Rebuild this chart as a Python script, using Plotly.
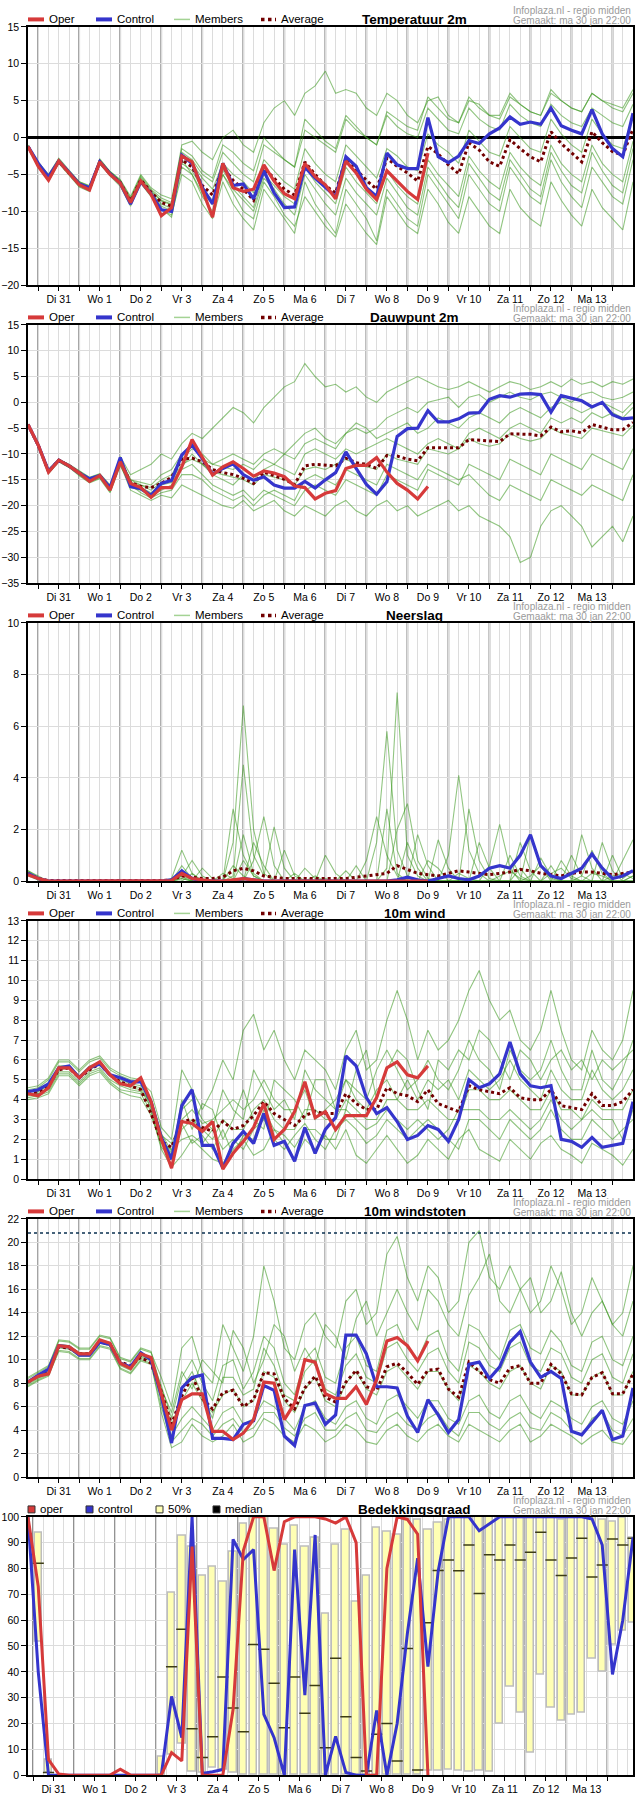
import pandas as pd
import plotly.graph_objects as go

# tijdas: stappen van 6 uur vanaf ma 30 jan 18:00
times = pd.date_range("2023-01-30 18:00", periods=60, freq="6h")
times_cloud = pd.date_range("2023-01-30 21:00", periods=60, freq="6h")
day_starts = pd.date_range("2023-01-31", periods=15, freq="D")
day_noons = pd.date_range("2023-01-31 12:00", periods=14, freq="D")
day_labels = ["Di 31", "Wo 1", "Do 2", "Vr 3", "Za 4", "Zo 5", "Ma 6",
              "Di 7", "Wo 8", "Do 9", "Vr 10", "Za 11", "Zo 12", "Ma 13"]

# ---- Temperatuur 2m ----
temp_oper = [-1.2,-3.9,-5.8,-3.2,-4.8,-6.4,-7.1,-3.3,-5.0,-6.2,-8.8,-5.9,-7.7,-10.6,-9.5,
             -2.5,-3.3,-7.0,-10.8,-3.5,-6.8,-7.3,-7.0,-3.7,-5.9,-7.6,-8.3,-3.5,-5.3,-6.4,
             -8.3,-3.2,-4.8,-7.0,-8.4,-4.5,-5.9,-7.3,-8.4,-2.1]
temp_ctrl = [-1.2,-3.5,-5.3,-3.2,-4.7,-6.3,-6.8,-3.3,-4.9,-6.2,-9.0,-6.0,-7.6,-9.8,-10.0,
             -2.4,-3.5,-6.8,-9.0,-3.5,-6.5,-6.3,-8.3,-4.5,-7.5,-9.5,-9.4,-4.0,-5.5,-6.8,
             -8.0,-2.6,-3.9,-6.8,-8.0,-2.1,-3.7,-4.2,-4.2,2.7,-2.6,-3.4,-2.5,-0.4,-0.8,
             0.5,1.3,2.8,1.8,2.1,1.8,4.0,1.6,1.0,0.5,3.8,0.5,-1.5,-2.6,3.3]
temp_avg = [-1.2,-3.7,-5.5,-3.2,-4.8,-6.3,-6.9,-3.3,-4.9,-6.1,-8.6,-5.7,-7.4,-8.8,-9.3,
            -3.0,-4.0,-6.5,-7.8,-4.0,-5.8,-7.0,-8.5,-4.2,-5.5,-7.0,-7.8,-3.3,-5.0,-6.5,
            -7.5,-2.8,-4.3,-5.8,-7.0,-2.8,-3.9,-4.8,-5.9,-1.2,-2.2,-3.7,-4.9,-0.7,-1.7,
            -3.3,-3.9,-0.3,-1.5,-2.6,-3.3,0.8,-0.8,-2.1,-3.3,0.8,-0.7,-1.9,-2.4,1.2]
temp_m1 = [-1.0,-3.4,-5.0,-2.8,-4.4,-6.0,-6.5,-2.9,-4.6,-5.8,-8.2,-5.2,-7.0,-8.2,-8.8,
           -1,-0.5,-2,-3, 0,1,-1,-2, 2,4,5,3, 6,7,9,6, 6.5,6,4,3, 6,5,3,2,
           5,5.5,3,2, 5,4.5,3,2.5, 5.5,4.5,3.5,3, 6,5,4,3.5, 6,5,4.5,4, 6.5]
temp_m2 = [-1.3,-4.0,-5.9,-3.5,-5.1,-6.7,-7.3,-3.6,-5.2,-6.6,-9.3,-6.2,-8.0,-9.8,-10.5,
           -5,-6,-9,-11, -6,-9,-11,-12.5, -7,-9,-11,-13, -6,-9,-11,-13, -7,-9,-11,-14,
           -7,-9,-11,-12, -5,-7,-9,-11, -5,-7,-9,-10, -4,-6,-8,-9, -3,-6,-8,-9.5,
           -4,-6,-8,-9, -3]
temp_m3 = [-1.1,-3.6,-5.4,-3.0,-4.6,-6.1,-6.7,-3.1,-4.7,-5.9,-8.4,-5.4,-7.2,-8.5,-9.0,
           -2,-3,-5,-6, -2,-3.5,-5,-6, -1,-2,-3,-4, 1,0,-1,-2, 2.5,1,0,-1, 3,1.5,0.5,0,
           4,2.5,1,0.5, 4,2.5,1.5,1, 4.5,3,2,1.5, 4.5,3,2,1.5, 4,3,2,1.5, 4.5]
temp_m4 = [-1.2,-3.8,-5.7,-3.3,-4.9,-6.5,-7.0,-3.4,-5.0,-6.3,-8.9,-5.9,-7.7,-9.3,-9.9,
           -3.5,-4.5,-7,-8.5, -4.5,-6.5,-8,-9.5, -5,-6.5,-8,-9, -4,-6,-7.5,-9,
           -4,-6,-7.5,-9, -4.5,-6.5,-8,-9, -3,-5,-6.5,-8, -2.5,-4.5,-6,-7,
           -2,-4,-5.5,-6.5, -1,-3.5,-5,-6, -1,-3.5,-5,-6, -0.5]
temp_m5 = [-1.2,-3.5,-5.3,-3.1,-4.7,-6.2,-6.8,-3.2,-4.8,-6.0,-8.5,-5.6,-7.3,-8.6,-9.1,
           -2.5,-3.5,-5.5,-7, -3.5,-5,-6,-7.5, -3,-4.5,-6,-7, -1.5,-3.5,-5,-6,
           -1,-2.5,-4,-5.5, -1.5,-2.5,-4,-4.5, 0.5,-1,-2,-3.5, 1,-0.5,-2,-2.5,
           1.5,0,-1.5,-2, 2.5,0.5,-1,-2, 2.5,0.5,-1,-1.5, 3]
temp_m6 = [-1.3,-3.9,-5.8,-3.4,-5.0,-6.6,-7.2,-3.5,-5.1,-6.4,-9.1,-6.1,-7.9,-9.6,-10.8,
           -4,-5,-8,-10, -5,-7.5,-10,-11, -6,-8,-10.5,-12, -8,-10,-12,-13.5,
           -9,-11,-13,-14.5, -8,-10,-12,-13, -7,-9,-11.5,-13, -8,-10,-12,-13,
           -7,-9.5,-11,-12, -6,-8.5,-10.5,-12, -7,-9.5,-11,-12.5, -6]
temp_m7 = [-1.1,-3.3,-5.1,-2.9,-4.5,-6.0,-6.6,-3.0,-4.6,-5.7,-8.0,-5.0,-6.8,-7.8,-8.3,
           -1.5,-2.5,-4.5,-5.5, -1,-2,-3.5,-4.5, 0,-1.5,-3,-4, 2.5,1,-0.5,-1.5,
           3,1.5,0,-1, 3.5,2.5,1.5,1, 5.5,4,2.5,2, 5.5,4,3,3, 6,4.5,3.5,3,
           6.5,5,4,3.5, 6,5,4,3.5, 6]
temp_m8 = [-1.2,-3.7,-5.6,-3.2,-4.9,-6.4,-7.0,-3.3,-5.0,-6.2,-8.7,-5.8,-7.5,-9.0,-9.6,
           -3,-5,-7.5,-9, -5,-7,-8.5,-10, -5.5,-7,-9,-10.5, -5,-7,-9,-10.5,
           -5.5,-7.5,-9,-10.5, -5.5,-7.5,-9.5,-10.5, -4,-6,-8,-9.5, -3.5,-5.5,-7.5,-8.5,
           -3,-5,-7,-8, -2,-4.5,-6.5,-7.5, -2,-4.5,-6.5,-7.5, -1.5]

# ---- Dauwpunt 2m ----
dew_oper = [-4.3,-8.3,-13.5,-11.2,-12.3,-13.7,-15.3,-14.2,-17.0,-11.5,-15.7,-16.5,-18.4,
            -16.5,-16.5,-12.5,-7.2,-10.6,-14.1,-12.5,-11.5,-12.8,-14.3,-13.3,-13.7,-14.4,
            -16.2,-16.5,-18.7,-17.6,-17.1,-12.8,-12.2,-12.2,-10.7,-13.5,-15.7,-17.0,-18.7,-16.3]
dew_ctrl = [-4.3,-8.3,-13.3,-11.2,-12.3,-13.7,-14.8,-14.2,-16.5,-10.7,-16.3,-16.7,-18.0,
            -15.7,-15.1,-10.2,-8.3,-10.9,-13.9,-12.8,-11.9,-14.0,-15.1,-14.4,-16.0,-16.6,
            -16.6,-15.3,-16.6,-15.0,-13.6,-9.6,-12.8,-15.9,-17.8,-15.4,-6.6,-5.1,-5.0,-1.6,
            -3.8,-3.8,-3.2,-2.1,-2.0,0.6,1.3,1.0,1.6,1.7,1.5,-1.9,1.3,0.8,0.3,-0.9,0.0,
            -2.4,-3.2,-3.0]
dew_avg = [-4.3,-8.3,-13.4,-11.2,-12.3,-13.7,-15.0,-14.2,-16.7,-11.5,-15.5,-16.3,-16.5,
           -15.7,-14.5,-11.0,-10.8,-11.5,-13.0,-13.6,-14.0,-14.7,-15.7,-13.5,-14.2,-14.9,
           -15.9,-12.3,-12.0,-12.1,-12.3,-10.8,-11.7,-12.0,-12.8,-10.3,-10.4,-11.0,-11.3,
           -8.8,-8.8,-8.8,-8.8,-7.2,-7.3,-7.5,-7.6,-6.1,-6.2,-6.2,-6.5,-4.8,-5.7,-5.5,
           -5.9,-4.3,-4.8,-5.3,-5.3,-3.9]
dew_m1 = [-4.2,-8.1,-13.0,-11.0,-12.0,-13.3,-14.5,-13.8,-16.0,-10.5,
          -14,-13,-12,-10,-11, -8,-6,-7,-5,-3, -1,-2,-4,-1,1, 3,4,7.5,5,3,
          3.5,2,3,1,0, 2,3,4,5,4, 3,2.5,3,4,3, 2,3,4,3.5,2.5, 3,4,3,4.5,3.5, 4,3,4,3.5,4.5]
dew_m2 = [-4.4,-8.5,-13.8,-11.5,-12.6,-14.1,-15.5,-14.6,-17.3,-12.0,
          -17,-18,-19,-18,-18.5, -16,-17,-18,-19,-20, -20.5,-19,-21,-20,-19,
          -21,-22,-20,-21,-22, -20,-19,-21,-22,-20, -19,-21,-20,-22,-21,
          -20,-19,-21,-20,-22, -23,-24,-26,-31,-30, -24,-21,-20,-22,-24, -28,-26,-24,-27,-22]
dew_m3 = [-4.3,-8.2,-13.2,-11.1,-12.2,-13.5,-14.8,-14.0,-16.4,-11.0,
          -15,-15.5,-16,-14,-13, -10,-8,-11,-12,-11, -10,-11,-12,-10,-9,
          -10,-11,-8,-7,-8, -9,-6,-5,-6,-5, -3,-2,-1,-2,0, 0.5,1,-1,1,1.5,
          0,1,2,1,0.5, 1.5,2,1,0,1.5, 2,1,0.5,1,2]
dew_m4 = [-4.3,-8.3,-13.4,-11.2,-12.3,-13.7,-15.0,-14.2,-16.7,-11.3,
          -15.5,-16,-17,-15.5,-15, -12,-11,-12,-13.5,-14, -14.5,-15,-16,-14,-14.5,
          -15,-16,-13,-12.5,-13, -12,-11,-12,-12.5,-13, -10,-11,-11.5,-12,-9,
          -9.5,-10,-9,-7,-8, -8.5,-8,-6,-7,-7.5, -7,-5,-6,-6.5,-7, -5,-5.5,-6,-6.5,-4.5]
dew_m5 = [-4.4,-8.4,-13.6,-11.4,-12.5,-14.0,-15.3,-14.5,-17.0,-11.8,
          -16.5,-17,-18,-17,-16, -13,-12,-14,-16,-17, -18,-17,-19,-17,-18,
          -19,-20,-17,-16,-17, -18,-15,-16,-17,-18, -14,-15,-16,-17,-13,
          -14,-15,-16,-12,-13, -14,-15,-11,-12,-13, -14,-10,-11,-12,-13, -10,-11,-12,-13,-9]
dew_m6 = [-4.2,-8.2,-13.1,-11.0,-12.1,-13.4,-14.6,-13.9,-16.2,-10.8,
          -15,-16,-16.5,-15,-14, -11,-9,-10,-12,-12.5, -13,-12,-13,-11,-12,
          -10,-8,-6,-5,-7, -8,-6,-4,-5,-7, -6,-5,-4,-6,-5, -3,-4,-5,-3,-2,
          -3,-4,-2,-1,-2, -3,-1,0,-1,-2, -1,0,-1,-2,0]
dew_m7 = [-4.4,-8.5,-13.7,-11.5,-12.6,-14.2,-15.6,-14.8,-17.5,-12.3,
          -16,-17.5,-18.5,-17.5,-17, -14,-14,-15,-17,-18, -19,-18,-20,-18,-17,
          -18,-19,-15,-14,-15, -16,-13,-14,-15,-16, -12,-13,-14,-15,-12,
          -13,-14,-15,-14,-16, -18,-19,-16,-17,-18, -19,-15,-16,-17,-18, -16,-17,-18,-19,-14]
dew_m8 = [-4.3,-8.3,-13.3,-11.2,-12.3,-13.6,-14.9,-14.1,-16.6,-11.4,
          -15.5,-16.5,-17.5,-16,-15.5, -12.5,-10,-12,-14,-15, -16,-14,-15,-13,-12,
          -13,-14,-10,-9,-10, -11,-9,-10,-9,-8, -7,-8,-9,-10,-8, -7,-8,-9,-6,-5,
          -6,-7,-5,-4,-5, -6,-3,-4,-3,-4, -2,-3,-2,-3,-1]

# ---- Neerslag ----
rain_oper = [0.25,0.1,0,0,0,0,0,0,0,0, 0,0,0,0,0.02,0.3,0.1,0.05,0,0,
             0.05,0.1,0.05,0,0,0,0,0,0,0, 0,0,0,0,0,0,0,0,0,0]
rain_ctrl = [0.3,0.1,0,0,0,0,0,0,0,0, 0,0,0,0,0.05,0.4,0.1,0,0,0,
             0,0.1,0.05,0,0,0,0,0,0,0, 0,0,0,0,0,0,0.05,0.15,0.05,0,
             0.1,0.2,0.1,0.05,0.2,0.5,0.6,0.5,1.0,1.8, 0.6,0.2,0.1,0.3,0.5,1.05,0.5,0.1,0.2,0.4]
rain_avg = [0.3,0.1,0.02,0.02,0.02,0.02,0.02,0.02,0.02,0.02,
            0.02,0.02,0.02,0.02,0.05,0.2,0.15,0.1,0.1,0.15,
            0.4,0.5,0.4,0.2,0.15,0.1,0.1,0.1,0.08,0.1,
            0.1,0.1,0.15,0.2,0.25,0.3,0.6,0.45,0.3,0.25,
            0.2,0.3,0.4,0.35,0.3,0.25,0.3,0.35,0.45,0.4,
            0.3,0.25,0.2,0.3,0.35,0.35,0.3,0.25,0.3,0.35]
rain_m1 = [0.4,0.15,0,0,0,0,0,0,0,0, 0,0,0,0,0.1,1.2,0.3,0,0,0,
           1.5,6.8,2.0,0.3,0,0,0,0,0,0, 0,0,0,0,0,0.5,7.3,1.0,0.2,0,
           0,0,0,0,0,0,0,0,0.5,0, 0,0,0,0,0,0,0,0,0,0]
rain_m2 = [0.3,0.1,0,0,0,0,0,0,0,0, 0,0,0,0,0,0.6,0.1,0,0,0,
           0.2,4.5,1.0,0.2,2.1,0.5,0,0,0,0, 0,0,0,0,1.5,5.8,1.2,0.2,0,0,
           0,0,0.3,0.1,0,0,0.2,0.4,0.1,0, 0,0.3,0.5,0.1,0,0,0,0.2,0.3,0.1]
rain_m3 = [0.35,0.1,0,0,0,0,0,0,0,0, 0,0,0,0,0,0.2,0.8,0.2,0,0,
           2.8,1.0,0.2,0,0,0,0,0,0,0.1, 0,0,0,0.8,2.5,1.0,0.2,0,0,0,
           0,1.0,4.1,1.2,0.3,0,0,0,0,0.2, 0.6,0.1,0,0,0,0.3,0.2,0,0,0]
rain_m4 = [0.25,0.1,0,0,0,0,0,0,0,0, 0,0,0,0,0,0.4,0,0,0,0.3,
           0.1,0,1.5,0.6,0,0,0,0.5,0.1,0, 0,0,0,0,0,0,2.0,3.0,0.8,0.1,
           0,0,0,2.8,0.8,0.1,0,0,1.5,0.4, 0,0,0,0,0.2,1.2,0.3,0,0,0.2]
rain_m5 = [0.3,0.05,0,0,0,0,0,0,0,0, 0,0,0,0,0,0.1,0,0.5,0.1,0,
           0,0.8,0.2,0,0,0,0.3,0,0.2,0, 0,0,0,0,0,0,0,1.5,0.5,0,
           0,0,0,0,0,0.6,2.2,0.5,0,0, 0,0,0.8,0.2,0,0,1.5,0.4,0,0]
rain_m6 = [0.2,0.05,0,0,0,0,0,0,0,0, 0,0,0,0,0,0.2,0,0,0,0,
           0.6,0.2,0,0,0,0,0,0,0,1.0, 0.3,0,0,0,0,0,0,0,0,0.8,
           0.5,0,0,0,0,0,0,0,0,1.8, 0.6,0,0,1.0,0.2,0,0,0,0.8,1.6]
rain_m7 = [0.3,0.1,0,0,0,0,0,0,0,0, 0,0,0,0,0,0,0.3,0,0,0,
           0,0,0.8,2.5,0.6,0,0,0,0,0, 0,0.4,0,0,0,2.8,0.3,0,0,0,
           1.6,0.5,0,0,0,0,0,1.0,0.2,0, 0,0.6,0,0,1.8,0.5,0,0,0,0.2]
rain_m8 = [0.4,0.2,0,0,0,0,0,0,0,0, 0,0,0,0,0,0.1,0,0,0,0,
           0,1.8,0.3,0,0,1.2,0.2,0,0,0, 0,0,0.6,0,0,0,0,0,1.8,0.6,
           0,0,0,0,1.5,0.5,0,0,0,0, 0.9,0.2,0,0,0,0,0,1.0,0.1,0.4]

# ---- 10m wind ----
wind_oper = [4.3,4.2,4.6,5.6,5.6,5.1,5.6,5.9,5.25,4.8,4.7,5.1,3.9,2.0,0.55,2.9,2.8,2.4,
             2.9,0.5,1.3,1.9,2.6,3.8,2.0,2.5,3.4,4.9,3.1,3.4,2.5,3.2,3.2,3.2,4.1,5.6,
             5.9,5.25,5.1,5.7]
wind_ctrl = [4.4,4.5,4.8,5.6,5.7,5.1,5.6,5.8,5.25,5.1,4.9,4.9,3.9,2.1,1.0,3.7,4.5,1.7,
             1.7,0.55,1.8,2.4,1.8,3.3,1.7,1.9,0.9,2.6,1.3,2.5,3.1,6.2,5.7,4.1,3.3,3.6,
             2.9,2.0,2.2,2.7,2.5,1.9,3.0,5.0,4.6,4.8,5.3,6.9,5.3,4.7,4.6,4.7,2.0,1.9,
             1.6,2.1,1.6,1.7,1.8,3.9]
wind_avg = [4.3,4.4,4.7,5.5,5.6,5.1,5.5,5.8,5.25,4.9,4.7,4.5,3.3,1.9,1.6,2.9,3.0,2.6,
            2.4,2.9,2.5,2.7,3.2,3.9,3.3,3.0,2.7,3.2,3.4,3.3,3.3,4.3,3.8,3.5,3.5,4.6,
            4.3,4.2,3.9,4.5,3.8,3.6,3.4,4.7,4.5,4.4,4.3,4.6,4.1,4.0,4.0,4.5,3.7,3.6,
            3.5,4.3,3.7,3.7,3.9,4.5]
wind_m1 = [4.5,4.6,5.0,5.9,5.9,5.4,5.9,6.1,5.5,5.2,5.0,4.9,
           4.4,2.6,2.0, 5.5,4.5,3.5,4.5,6, 5,7.5,8.3,6.5,7.5, 6,5,6.5,6,5.5,
           4.5,6.5,7.5,5.5,6, 8,9.5,8,6,7.5, 6.5,7,8,9.5,10.5, 9,8,8.5,7,6.5,
           7.5,9.5,7.5,6,5.5, 7.5,6.5,6,7,9.5]
wind_m2 = [4.1,4.2,4.4,5.3,5.3,4.8,5.3,5.5,4.9,4.5,4.4,4.3,
           3.4,1.5,0.6, 1.2,2,1.5,1,0.8, 1.5,2,1.2,1.5,2.5, 1.8,1,2,1.5,2.2,
           1.5,2.5,1.2,0.8,1.5, 2.2,1.5,0.8,1.2,2, 1.5,1,2,2.5,1.5, 1.2,0.9,2,1.5,1,
           1.8,2.2,1.5,1.2,0.8, 1.8,1.5,1.2,0.7,1.5]
wind_m3 = [4.4,4.5,4.8,5.7,5.7,5.2,5.7,5.9,5.3,5.0,4.8,4.7,
           4,2.3,1.4, 3.5,4,3,2.5,4.5, 3.5,3,5.5,4.5,3.5, 4,3,5.5,4.5,4,
           3.5,5,4.5,4,5.5, 6.5,5.5,4.5,5,6, 5,4.5,5.5,7,6, 5.5,4.5,6.5,5.5,5,
           5.5,7,5.5,4.5,4.5, 6.5,5,4.5,5.5,7]
wind_m4 = [4.3,4.3,4.6,5.5,5.6,5.1,5.5,5.8,5.2,4.8,4.6,4.5,
           3.6,1.9,1.2, 2.5,3,2.5,2,3, 2.5,2.5,3.5,4,3, 2.5,2.5,3.5,3.5,3,
           3,4,3.5,3,3, 4,4,3.5,3.5,4, 3.5,3,3,4.5,4.5, 4,4,4.5,4,3.5,
           3.5,4.5,3.5,3.5,3, 4,3.5,3.5,3.5,4.5]
wind_m5 = [4.0,4.1,4.3,5.2,5.2,4.7,5.2,5.4,4.8,4.4,4.2,4.1,
           3.2,1.8,1.5, 2,2.2,1.8,2.5,1.5, 2,1.5,2.5,3,2, 1.5,2.2,2.8,2,1.5,
           2.5,3,2.5,1.8,2.2, 3,2.5,2,2.5,3, 2.5,2,1.5,3,3, 2.5,2,3,2.5,2,
           2.5,3.5,2.5,2,2, 3,2.5,2,2.5,3]
wind_m6 = [4.4,4.4,4.7,5.6,5.6,5.1,5.6,5.8,5.2,4.9,4.7,4.6,
           3.8,2.2,1.8, 3,3.5,2.8,3,3.5, 4,3.5,4,5,4, 3.5,3.5,4.5,3,3.5,
           4,5,4,3.5,4.5, 5,4,5,4,5, 4.5,5,4,5.5,5, 4.5,5,6,5,4.5,
           4,5.5,4.5,4,4, 5.5,4.5,4,4.5,5.5]
wind_m7 = [4.6,4.7,5.1,6.0,6.0,5.5,6.0,6.2,5.6,5.3,5.1,5.0,
           3.5,1.6,1.1, 4,2.5,3.8,3.5,2, 3,4.5,3,2.5,5, 4.5,4,3,5,5,
           3.5,3.5,5.5,6.5,4, 5.5,6.5,6,4.5,3.5, 6,5.5,6.5,6,7.5, 7,6,5,6.5,6,
           5,6,6.5,5.5,6, 5,6,5.5,6,6.5]
wind_m8 = [4.2,4.3,4.5,5.4,5.4,4.9,5.4,5.6,5.0,4.7,4.5,4.4,
           3.9,2.1,1.3, 2.8,1.8,2.2,1.5,2.5, 1.2,2.2,2,3.5,2.5, 2.2,1.6,2.5,2.5,2,
           2,3.5,3,2.5,2.8, 3.5,3,2.5,3,2.5, 2,2.5,3.5,3.5,3.5, 3,3,3.5,3,2.5,
           3,4,3,2.5,3, 3.5,3,3,2,3.5]

# ---- 10m windstoten ----
gust_oper = [8.1,8.6,8.8,11.2,11.1,10.5,10.5,11.7,11.4,9.7,9.25,10.5,10.2,7.1,4.0,6.6,7.1,
             7.1,3.9,3.9,3.2,3.75,4.9,8.1,8.0,4.9,6.3,10.0,9.8,7.1,6.7,6.7,7.7,6.2,8.3,
             11.6,11.9,11.2,9.9,11.6]
gust_ctrl = [8.1,8.7,9.2,11.2,11.1,10.4,10.4,11.5,11.3,9.7,9.4,10.6,10.0,6.9,2.9,7.6,8.5,
             8.7,3.3,3.3,3.2,4.5,4.8,7.8,7.4,3.5,2.7,6.1,6.3,4.5,5.3,12.1,12.1,10.5,7.7,
             7.7,7.6,5.2,3.8,6.6,5.3,3.8,4.9,9.6,9.8,8.4,9.4,11.5,12.4,9.8,8.5,9.0,8.4,
             3.9,3.6,4.6,5.7,3.2,3.5,7.6]
gust_avg = [8.1,8.6,9.0,11.1,11.0,10.5,10.5,11.5,11.3,9.8,9.5,10.2,9.7,7.3,4.5,6.9,8.6,
            6.7,5.8,7.2,7.4,6.0,6.6,8.9,8.8,6.7,5.8,7.6,8.6,6.8,6.4,8.1,9.1,7.7,7.4,9.4,
            9.7,8.9,7.9,9.1,9.2,7.5,6.8,9.8,9.0,8.3,8.0,9.3,9.5,8.0,8.0,9.6,8.8,7.1,7.0,
            8.5,8.9,7.1,7.1,8.8]
gust_m1 = [8.4,8.9,9.4,11.6,11.5,10.9,10.9,12.0,11.8,10.1,9.8,10.9,10.6,
           8.5,6, 11,12,9,8,13, 11,9,12,18,15, 11,10,13,14,12, 11,15,16,13,14,
           19,20.5,17,15,18, 17,14,15,20,21, 17,16,18,16,14, 15,18,16,13,14, 17,15,13,14,18]
gust_m2 = [7.8,8.3,8.7,10.8,10.7,10.1,10.1,11.2,11.0,9.3,8.9,10.0,9.7,
           5.5,2.5, 3,4.5,3.5,3,3.5, 4.5,3,3.5,5,4.5, 3.5,3,4.5,4,3, 3.5,4.5,4,3,2.8,
           4,4.5,3.5,3,4, 4.5,3.5,3,4.5,4, 3.5,3,4,4.5,3, 3.5,4.5,4,3.5,2.8, 3.5,4,3,2.8,4]
gust_m3 = [8.2,8.7,9.1,11.3,11.2,10.6,10.6,11.7,11.5,9.8,9.4,10.5,10.2,
           7.8,5, 8.5,10,8,6.5,9.5, 10,7.5,9,12,11, 8,7,10,11,8.5, 8,11,12,9.5,9,
           12.5,13,11,10,12, 12.5,10,9,13,12.5, 11,10,12.5,13,11, 10.5,12.5,11.5,9.5,9,
           11.5,12,10,9.5,12]
gust_m4 = [8.1,8.6,9.0,11.2,11.1,10.5,10.5,11.6,11.4,9.7,9.3,10.4,10.1,
           7.2,4.5, 6.5,8,6.5,5.5,7, 7.5,6,6.5,9,8.5, 6.5,5.5,7.5,8.5,6.5, 6,8,9,7.5,7,
           9,9.5,8.5,7.5,9, 9,7.5,6.5,9.5,9, 8,7.5,9,9.5,8, 7.5,9.5,9,7,7, 8.5,9,7,7,9]
gust_m5 = [7.9,8.4,8.8,11.0,10.9,10.3,10.3,11.4,11.2,9.5,9.1,10.2,9.9,
           6.5,3.5, 5,6,5,4,5.5, 6,4.5,5,6.5,6, 5,4,6,6.5,5, 4.5,6,6.5,5,4.5,
           6.5,7,6,5,6.5, 6.5,5,4.5,6.5,7, 5.5,5,6.5,7,5.5, 5,6.5,6,5,4.5, 6,6.5,5,4.5,6.5]
gust_m6 = [8.5,9.0,9.5,11.7,11.6,11.0,11.0,12.1,11.9,10.2,9.9,11.0,10.7,
           7.5,5.5, 9,7.5,10,9,8, 12.5,11,8,10,13, 12,9,11,9.5,13, 12,10,13.5,15,12,
           14,16,14,12.5,16, 15,13,12,15.5,17, 19,15,14,16,17, 14,15,17.5,14,12, 14,15,13,12,15]
gust_m7 = [8.0,8.5,8.9,11.1,11.0,10.4,10.4,11.5,11.3,9.6,9.2,10.3,10.0,
           6.8,4, 7.5,9,7,5,8.5, 8.5,7,7.5,11,9.5, 7,6.5,9,10,7.5, 7,9.5,10.5,8.5,8,
           11,11.5,10,9,10.5, 11,9,8,11.5,11, 9.5,9,11,11.5,9.5, 9,11,10.5,8.5,8,
           10,10.5,8.5,8,10.5]
gust_m8 = [7.7,8.2,8.6,10.7,10.6,10.0,10.0,11.1,10.9,9.2,8.8,9.9,9.6,
           6,3, 4,5,4.5,3.5,4.5, 5,3.8,4.2,5.5,5.5, 4.2,3.5,5,5.5,4, 4,5,5.5,4,3.8,
           5,5.5,4.5,4,5, 5.5,4.2,3.5,5.5,5.5, 4.5,4,5,5.5,4.2, 4,5.5,5,4,3.5, 5,5.5,4,3.5,5]
gust_limit = 20.8

# ---- Bedekkingsgraad ----
N = None
cloud_oper = [100,73,6,0.4,0,0,0,0,0,2.3,0,0,0,0,8.7,5.5,88.5,0,0,0,25.4,86.9,100,100,
              79.2,98.1,100,100,100,99.2,97.6,100,90,0,0,80,100,99,93.3,0]
cloud_ctrl = [100,40,0,0,0,0,0,0,0,0,0,0,0,0,30.5,14.5,100,0.6,1.3,2.2,91.3,83.5,87.3,
              23.5,14.5,0,87.3,31,93,0,15,1,0,0,25,0,20,55,84,42,79,100,100,100,94.6,
              97.2,100,100,100,100,100,100,100,100,100,99.2,89.1,39,60,92]
cloud_p25 = [N,51.5,1,N,N,N,N,N,N,N,N,N,N,0,8,12,1.3,0.7,2.9,2,1,0,0,0,0,0,0,0,0,0,
             0,0,0,0,0,0,0,0,0,1.5,1.5,1.9,1.5,1.3,1.5,1.3,20,34,24,8.5,39,26,21,23.5,
             24,45,40,50.6,56,59]
cloud_p75 = [N,94,6,N,N,N,N,N,N,N,N,N,N,7,70.6,92.7,88.5,77.3,80.8,74.9,86.5,97.2,99.7,
             100,95.2,89,96.5,88.5,91.8,62.6,89.1,94.8,67,77.3,95.6,94.3,92.9,99.3,99,
             94.8,97.6,99,99.7,100,100,100,100,100,100,100,100,100,99,100,100,100,99,98,
             99.5,91.8]
cloud_med = [N,82,1,N,N,N,N,N,N,N,N,N,N,N,42,56.5,18,6.8,14.9,38,26,16.8,50.6,48.7,35.6,
             18.3,38,24,34.7,10.6,45.3,22.6,6.8,1.6,15.8,20,5.5,49,2,59,79.2,83.3,79.1,
             89.1,70.3,85.3,83.3,89.1,83.3,86.3,94,83.3,77.3,84.1,91.7,76.7,81.4,91.4,
             89.1,91.7]

panels = [
    ("Temperatuur 2m", [-20, 15], 5),
    ("Dauwpunt 2m", [-35, 15], 5),
    ("Neerslag", [0, 10], 2),
    ("10m wind", [0, 13], 1),
    ("10m windstoten", [0, 22], 2),
    ("Bedekkingsgraad", [0, 100], 10),
]
ensembles = [
    ([temp_m1, temp_m2, temp_m3, temp_m4, temp_m5, temp_m6, temp_m7, temp_m8],
     temp_avg, temp_ctrl, temp_oper),
    ([dew_m1, dew_m2, dew_m3, dew_m4, dew_m5, dew_m6, dew_m7, dew_m8],
     dew_avg, dew_ctrl, dew_oper),
    ([rain_m1, rain_m2, rain_m3, rain_m4, rain_m5, rain_m6, rain_m7, rain_m8],
     rain_avg, rain_ctrl, rain_oper),
    ([wind_m1, wind_m2, wind_m3, wind_m4, wind_m5, wind_m6, wind_m7, wind_m8],
     wind_avg, wind_ctrl, wind_oper),
    ([gust_m1, gust_m2, gust_m3, gust_m4, gust_m5, gust_m6, gust_m7, gust_m8],
     gust_avg, gust_ctrl, gust_oper),
]

W, H = 635, 1800
RED = "#d63a3a"
BLUE = "#3535cc"
AVG = "#720000"
MEMBER = "rgba(55,150,25,0.55)"
FONT = "Liberation Sans, Arial, sans-serif"


def px(x):
    return x / W


def py(y):
    return 1 - y / H


fig = go.Figure()
shapes = []
annotations = []

for k, (title, yrange, dtick) in enumerate(panels):
    top = 21 + 300 * k
    bottom = 281 + 300 * k
    suffix = "" if k == 0 else str(k + 1)
    xn, yn = "x" + suffix, "y" + suffix
    cloud = k == 5
    if cloud:
        xrange = ["2023-01-30 21:00", "2023-02-14 15:00"]
    else:
        xrange = ["2023-01-30 18:00", "2023-02-14 12:00"]

    fig.update_layout(**{
        "xaxis" + suffix: dict(
            domain=[px(28), px(633)], anchor=yn, type="date", range=xrange,
            tickmode="array",
            tickvals=list(day_starts) + list(day_noons),
            ticktext=[""] * len(day_starts) + day_labels,
            ticks="outside", ticklen=4, tickcolor="black",
            tickfont=dict(size=10.5, color="black", family=FONT),
            showgrid=False, zeroline=False,
            minor=dict(tick0="2023-01-31 00:00", dtick=6 * 3600 * 1000,
                       showgrid=True, gridcolor="#dcdcdc", gridwidth=1.2, ticks=""),
            showline=True, linecolor="black", linewidth=1.5, mirror=True,
        ),
        "yaxis" + suffix: dict(
            domain=[py(bottom), py(top)], anchor=xn, range=yrange, dtick=dtick,
            tick0=0, ticks="outside", ticklen=5, tickcolor="black",
            tickfont=dict(size=10.5, color="black", family=FONT),
            showgrid=True, gridcolor="#dcdcdc", gridwidth=1.2,
            zeroline=(k == 0), zerolinecolor="black", zerolinewidth=2.5,
            showline=True, linecolor="black", linewidth=1.5, mirror=True,
        ),
    })

    # donkere daglijnen om middernacht
    for d in day_starts:
        shapes.append(dict(type="line", xref=xn, yref="paper", x0=d, x1=d,
                           y0=py(bottom), y1=py(top),
                           line=dict(color="#4a4a4a", width=1.5), layer="below"))

    # titel en bron
    yc = 13.5 + 300 * k
    annotations.append(dict(text="<b>%s</b>" % title, x=px(415), y=py(yc),
                            xref="paper", yref="paper", showarrow=False,
                            xanchor="center", yanchor="middle",
                            font=dict(size=13.5, color="black", family=FONT)))
    annotations.append(dict(text="Infoplaza.nl - regio midden", x=px(633),
                            y=py(4.5 + 300 * k), xref="paper", yref="paper",
                            showarrow=False, xanchor="right", yanchor="middle",
                            font=dict(size=10, color="#9a9a9a", family=FONT)))
    annotations.append(dict(text="Gemaakt: ma 30 jan 22:00", x=px(633),
                            y=py(15 + 300 * k), xref="paper", yref="paper",
                            showarrow=False, xanchor="right", yanchor="middle",
                            font=dict(size=10, color="#9a9a9a", family=FONT)))

    if not cloud:
        members, avg, ctrl, oper = ensembles[k]
        for m in members:
            fig.add_trace(go.Scatter(x=times, y=m, xaxis=xn, yaxis=yn, mode="lines",
                                     line=dict(color=MEMBER, width=1.1),
                                     showlegend=False, hoverinfo="skip"))
        fig.add_trace(go.Scatter(x=times, y=avg, xaxis=xn, yaxis=yn, mode="lines",
                                 line=dict(color=AVG, width=3, dash="dot"),
                                 showlegend=False))
        fig.add_trace(go.Scatter(x=times, y=ctrl, xaxis=xn, yaxis=yn, mode="lines",
                                 line=dict(color=BLUE, width=3.2), showlegend=False))
        fig.add_trace(go.Scatter(x=times[:len(oper)], y=oper, xaxis=xn, yaxis=yn,
                                 mode="lines", line=dict(color=RED, width=3.2),
                                 showlegend=False))

        # legenda
        items = [("Oper", 28, 44, dict(color=RED, width=4)),
                 ("Control", 96, 112, dict(color=BLUE, width=4)),
                 ("Members", 174, 190, dict(color="rgba(90,175,60,0.55)", width=1.5)),
                 ("Average", 261, 276, dict(color=AVG, width=3.5, dash="dot"))]
        for label, x0, x1, ln in items:
            shapes.append(dict(type="line", xref="paper", yref="paper",
                               x0=px(x0), x1=px(x1), y0=py(yc), y1=py(yc), line=ln))
            annotations.append(dict(text=label, x=px(x1 + 3), y=py(yc), xref="paper",
                                    yref="paper", showarrow=False, xanchor="left",
                                    yanchor="middle",
                                    font=dict(size=11.5, color="black", family=FONT)))
        if k == 4:
            shapes.append(dict(type="line", xref="paper", yref=yn,
                               x0=px(28), x1=px(633), y0=gust_limit, y1=gust_limit,
                               line=dict(color="#0a3050", width=1.5, dash="dot")))
    else:
        heights = [None if lo is None else hi - lo for lo, hi in zip(cloud_p25, cloud_p75)]
        fig.add_trace(go.Bar(x=times_cloud, y=heights, base=cloud_p25, xaxis=xn, yaxis=yn,
                             width=6 * 3600 * 1000 * 0.72,
                             marker=dict(color="#ffffb4",
                                         line=dict(color="#bdbdbd", width=1.5)),
                             showlegend=False))
        fig.add_trace(go.Scatter(x=times_cloud, y=cloud_med, xaxis=xn, yaxis=yn,
                                 mode="markers",
                                 marker=dict(symbol="line-ew", size=8,
                                             line=dict(color="#3c3c14", width=1.5)),
                                 showlegend=False))
        fig.add_trace(go.Scatter(x=times_cloud, y=cloud_ctrl, xaxis=xn, yaxis=yn,
                                 mode="lines", line=dict(color=BLUE, width=3),
                                 showlegend=False))
        fig.add_trace(go.Scatter(x=times_cloud[:len(cloud_oper)], y=cloud_oper,
                                 xaxis=xn, yaxis=yn, mode="lines",
                                 line=dict(color=RED, width=3), showlegend=False))
        items = [("oper", 28, RED), ("control", 86, BLUE),
                 ("50%", 156, "#ffffb4"), ("median", 213, "black")]
        for label, x0, col in items:
            shapes.append(dict(type="rect", xref="paper", yref="paper",
                               x0=px(x0), x1=px(x0 + 7), y0=py(yc + 3.5), y1=py(yc - 3.5),
                               fillcolor=col, line=dict(color="#333333", width=1)))
            annotations.append(dict(text=label, x=px(x0 + 10), y=py(yc), xref="paper",
                                    yref="paper", showarrow=False, xanchor="left",
                                    yanchor="middle",
                                    font=dict(size=11.5, color="black", family=FONT)))

fig.update_layout(
    width=W, height=H, autosize=False,
    margin=dict(l=0, r=0, t=0, b=0),
    paper_bgcolor="white", plot_bgcolor="white",
    font=dict(family=FONT, color="black"),
    shapes=shapes, annotations=annotations,
    showlegend=False, bargap=0,
)

# geen paginamarge, zodat de grafiek precies in het venster past
fig.write_html("out.html", config={"displayModeBar": False},
               post_script="document.body.style.margin='0';"
                           "document.body.style.overflow='hidden';")
